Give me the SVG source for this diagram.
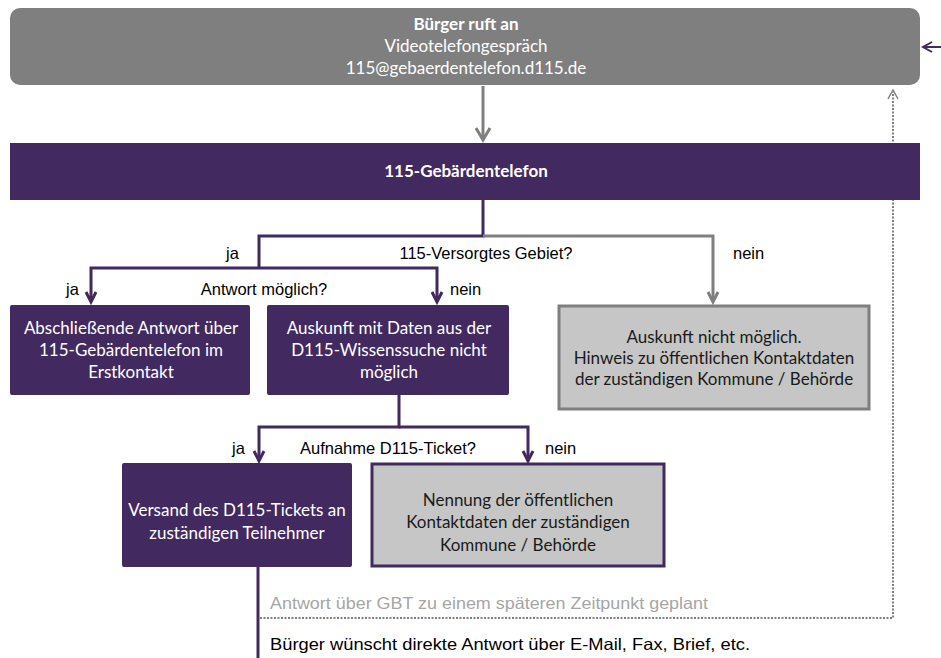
<svg xmlns="http://www.w3.org/2000/svg" width="941" height="658" viewBox="0 0 941 658">
<style>
.pbox{fill:#42295f}
.gbox{fill:#c6c6c6;stroke:#7f7f7f;stroke-width:3}
.gpbox{fill:#c6c6c6;stroke:#42295f;stroke-width:3}
.bt{font-family:Lato,"Liberation Sans",sans-serif;font-size:17px;text-anchor:middle;fill:#ffffff}
.dt{font-family:Lato,"Liberation Sans",sans-serif;font-size:17px;text-anchor:middle;fill:#1a1a1a}
.lb{font-family:"Liberation Sans",Arial,sans-serif;font-size:16.5px;fill:#000}
.pl{fill:none;stroke:#42295f;stroke-width:3}
.gl{fill:none;stroke:#7f7f7f;stroke-width:3}
</style>
<rect width="941" height="658" fill="#fff"/>
<g id="connectors">
<path class="gl" d="M483 86 V139" stroke-width="4"/>
<path class="gl" d="M476 128 L483 140 L490 128" stroke-width="3"/>
<path class="pl" d="M483 200 V236 H259 V268"/>
<path class="gl" d="M483 236 H713 V302"/>
<path class="gl" d="M708 292 L713 302 L718 292" stroke-width="2"/>
<path class="pl" d="M91 302 V268 H437 V302"/>
<path class="pl" d="M86 292 L91 302 L96 292" stroke-width="2"/>
<path class="pl" d="M432 292 L437 302 L442 292" stroke-width="2"/>
<path class="pl" d="M399 395 V427 H259 V461"/>
<path class="pl" d="M399 427 H528 V461"/>
<path class="pl" d="M254 451 L259 461 L264 451" stroke-width="2"/>
<path class="pl" d="M523 451 L528 461 L533 451" stroke-width="2"/>
<path class="pl" d="M258 567 V658"/>
<path d="M260 618 H893 V92" fill="none" stroke="#7f7f7f" stroke-width="2" stroke-dasharray="2 1.5"/>
<path d="M888 99 L893 90 L898 99" fill="none" stroke="#7f7f7f" stroke-width="1.5"/>
<path d="M941 47 H924" fill="none" stroke="#42295f" stroke-width="2"/>
<path d="M932 42 L923 47 L932 52" fill="none" stroke="#42295f" stroke-width="2"/>
</g>
<g id="n-buerger">
<rect x="10" y="8" width="910" height="77" rx="10" fill="#7f7f7f"/>
<text class="bt" x="466" y="30" font-weight="bold">Bürger ruft an</text>
<text class="bt" x="466" y="52">Videotelefongespräch</text>
<text class="bt" x="466" y="74">115@gebaerdentelefon.d115.de</text>
</g>
<g id="n-gbt">
<rect class="pbox" x="10" y="143" width="910" height="57"/>
<text class="bt" x="466" y="177" font-weight="bold">115-Gebärdentelefon</text>
</g>
<g id="labels1">
<text class="lb" x="226" y="259">ja</text>
<text class="lb" x="486" y="259" text-anchor="middle">115-Versorgtes Gebiet?</text>
<text class="lb" x="733" y="259">nein</text>
<text class="lb" x="66" y="295">ja</text>
<text class="lb" x="264" y="295" text-anchor="middle">Antwort möglich?</text>
<text class="lb" x="450" y="295">nein</text>
</g>
<g id="n-abschl">
<rect class="pbox" x="10" y="305" width="240" height="90" rx="2"/>
<text class="bt" x="131" y="334">Abschließende Antwort über</text>
<text class="bt" x="131" y="356">115-Gebärdentelefon im</text>
<text class="bt" x="131" y="378">Erstkontakt</text>
</g>
<g id="n-auskunft">
<rect class="pbox" x="267" y="305" width="242" height="90" rx="2"/>
<text class="bt" x="389" y="334">Auskunft mit Daten aus der</text>
<text class="bt" x="389" y="356">D115-Wissenssuche nicht</text>
<text class="bt" x="389" y="378">möglich</text>
</g>
<g id="n-nicht">
<rect class="gbox" x="559" y="306" width="310" height="103"/>
<text class="dt" x="714" y="343">Auskunft nicht möglich.</text>
<text class="dt" x="714" y="364">Hinweis zu öffentlichen Kontaktdaten</text>
<text class="dt" x="714" y="385">der zuständigen Kommune / Behörde</text>
</g>
<g id="labels2">
<text class="lb" x="232" y="454">ja</text>
<text class="lb" x="388" y="454" text-anchor="middle">Aufnahme D115-Ticket?</text>
<text class="lb" x="545" y="454">nein</text>
</g>
<g id="n-versand">
<rect class="pbox" x="122" y="463" width="230" height="104" rx="2"/>
<text class="bt" x="237" y="516">Versand des D115-Tickets an</text>
<text class="bt" x="237" y="539">zuständigen Teilnehmer</text>
</g>
<g id="n-nennung">
<rect class="gpbox" x="372" y="464" width="292" height="102"/>
<text class="dt" x="518" y="506">Nennung der öffentlichen</text>
<text class="dt" x="518" y="528">Kontaktdaten der zuständigen</text>
<text class="dt" x="518" y="551">Kommune / Behörde</text>
</g>
<g id="bottom-labels">
<text class="lb" x="270" y="609" style="fill:#a6a6a6" textLength="438" lengthAdjust="spacingAndGlyphs">Antwort über GBT zu einem späteren Zeitpunkt geplant</text>
<text class="lb" x="270" y="650" textLength="480" lengthAdjust="spacingAndGlyphs">Bürger wünscht direkte Antwort über E-Mail, Fax, Brief, etc.</text>
</g>
</svg>
